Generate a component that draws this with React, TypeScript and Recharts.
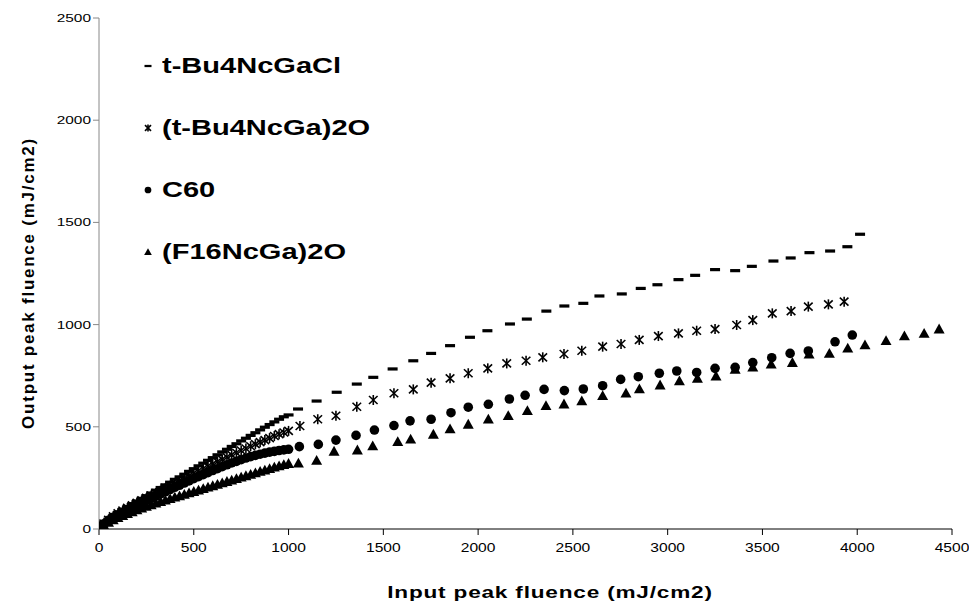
import React from 'react';
import { ScatterChart, Scatter, XAxis, YAxis, Legend } from 'recharts';

// series names
const seriesNames = ['t-Bu4NcGaCl', '(t-Bu4NcGa)2O', 'C60', '(F16NcGa)2O'];

const xTicks = [0, 500, 1000, 1500, 2000, 2500, 3000, 3500, 4000, 4500];
const yTicks = [0, 500, 1000, 1500, 2000, 2500];

// dense low-fluence region (shared input values)
const denseX = [0, 12, 25, 50, 75, 100, 125, 150, 175, 200, 225, 250, 275, 300, 325, 350, 375, 400, 425, 450, 475, 500, 525, 550, 575, 600, 625, 650, 675, 700, 725, 750, 775, 800, 825, 850, 875, 900, 925, 950, 975, 1000];

// t-Bu4NcGaCl
const clDenseY = [0, 18, 30, 48, 66, 82, 96, 110, 124, 137, 150, 163, 176, 190, 203, 216, 229, 243, 255, 268, 282, 295, 309, 322, 336, 349, 363, 377, 390, 404, 417, 431, 444, 458, 471, 485, 498, 511, 524, 537, 549, 558];
const clX = [1050, 1148, 1254, 1360, 1447, 1549, 1658, 1752, 1852, 1957, 2049, 2168, 2257, 2360, 2455, 2555, 2640, 2758, 2858, 2946, 3057, 3145, 3250, 3356, 3444, 3558, 3649, 3748, 3857, 3948, 4015];
const clY = [587, 626, 669, 709, 742, 783, 823, 859, 897, 938, 970, 1003, 1027, 1066, 1091, 1104, 1140, 1150, 1177, 1195, 1220, 1241, 1269, 1264, 1285, 1311, 1326, 1352, 1360, 1381, 1442];

// (t-Bu4NcGa)2O
const oxDenseY = [0, 15, 27, 45, 62, 77, 90, 103, 116, 128, 140, 152, 164, 176, 188, 200, 212, 225, 237, 249, 261, 273, 285, 296, 308, 319, 330, 341, 352, 363, 373, 384, 394, 405, 415, 425, 435, 445, 455, 464, 472, 480];
const oxX = [1060, 1154, 1250, 1360, 1447, 1556, 1658, 1752, 1852, 1948, 2051, 2151, 2253, 2341, 2453, 2547, 2657, 2754, 2850, 2951, 3057, 3153, 3250, 3364, 3449, 3552, 3651, 3742, 3848, 3931];
const oxY = [504, 537, 554, 598, 631, 664, 683, 716, 737, 762, 786, 810, 823, 840, 856, 872, 892, 905, 925, 944, 957, 970, 978, 998, 1022, 1055, 1066, 1088, 1099, 1112];

// C60
const c60DenseY = [0, 14, 25, 42, 57, 70, 82, 94, 106, 117, 128, 139, 150, 161, 172, 182, 193, 204, 214, 225, 235, 246, 256, 266, 276, 286, 295, 305, 314, 323, 331, 339, 347, 354, 360, 366, 371, 376, 380, 384, 387, 390];
const c60X = [1057, 1157, 1250, 1356, 1453, 1556, 1641, 1752, 1857, 1948, 2054, 2165, 2248, 2348, 2455, 2555, 2657, 2752, 2845, 2956, 3048, 3153, 3250, 3356, 3449, 3549, 3646, 3742, 3883, 3974];
const c60Y = [403, 414, 435, 458, 484, 506, 529, 537, 569, 596, 610, 636, 654, 683, 677, 685, 701, 732, 745, 762, 773, 766, 786, 791, 814, 838, 859, 871, 916, 949];

// (F16NcGa)2O
const fDenseY = [0, 10, 18, 32, 44, 55, 65, 75, 84, 93, 102, 110, 118, 126, 134, 141, 148, 155, 162, 169, 176, 183, 190, 197, 204, 211, 218, 225, 232, 239, 246, 253, 260, 267, 274, 281, 288, 295, 302, 308, 314, 320];
const fX = [1052, 1148, 1240, 1363, 1444, 1576, 1644, 1764, 1852, 1948, 2054, 2159, 2260, 2358, 2453, 2547, 2657, 2780, 2851, 2960, 3062, 3157, 3255, 3356, 3449, 3546, 3658, 3746, 3853, 3950, 4041, 4152, 4249, 4353, 4432];
const fY = [322, 335, 380, 386, 406, 427, 439, 463, 489, 512, 537, 554, 579, 603, 611, 626, 652, 664, 685, 704, 724, 737, 748, 781, 791, 806, 814, 855, 859, 884, 900, 921, 944, 957, 978];

const toPoints = (xs: number[], ys: number[]) => xs.map((x, i) => ({ x, y: ys[i] }));

const clData = [...toPoints(denseX, clDenseY), ...toPoints(clX, clY)];
const oxData = [...toPoints(denseX, oxDenseY), ...toPoints(oxX, oxY)];
const c60Data = [...toPoints(denseX, c60DenseY), ...toPoints(c60X, c60Y)];
const fData = [...toPoints(denseX, fDenseY), ...toPoints(fX, fY)];

// marker shapes
const Dash = ({ cx, cy, s = 1 }: any) => (
  <rect x={cx - 5 * s} y={cy - 1.6 * s} width={10 * s} height={3.2 * s} fill="#000" />
);
const Star = ({ cx, cy, s = 1 }: any) => (
  <g stroke="#000" strokeWidth={1.6}>
    <line x1={cx} y1={cy - 5 * s} x2={cx} y2={cy + 5 * s} />
    <line x1={cx - 4.3 * s} y1={cy - 4 * s} x2={cx + 4.3 * s} y2={cy + 4 * s} />
    <line x1={cx - 4.3 * s} y1={cy + 4 * s} x2={cx + 4.3 * s} y2={cy - 4 * s} />
  </g>
);
const Dot = ({ cx, cy, s = 1 }: any) => <circle cx={cx} cy={cy} r={4.8 * s} fill="#000" />;
const Tri = ({ cx, cy, s = 1 }: any) => (
  <polygon
    points={`${cx},${cy - 5.5 * s} ${cx - 5.5 * s},${cy + 4.3 * s} ${cx + 5.5 * s},${cy + 4.3 * s}`}
    fill="#000"
  />
);
const markers = [Dash, Star, Dot, Tri];

const FONT = 'Arial, "Liberation Sans", Helvetica, sans-serif';

const XTick = ({ x, y, payload }: any) => (
  <g transform={`translate(${x},${y}) scale(1.2,1)`}>
    <text x={0} y={0} dy={15} textAnchor="middle" fontSize={13} fontFamily={FONT} fill="#000">
      {payload.value}
    </text>
  </g>
);

const YTick = ({ x, y, payload }: any) => (
  <g transform={`translate(${x},${y}) scale(1.4,1)`}>
    <text x={0} y={0} dy={4} textAnchor="end" fontSize={11} fontFamily={FONT} fill="#000">
      {payload.value}
    </text>
  </g>
);

const LegendBox = () => (
  <div style={{ fontFamily: FONT }}>
    {seriesNames.map((name, i) => {
      const M = markers[i];
      return (
        <div key={name} style={{ height: 62, display: 'flex', alignItems: 'center' }}>
          <svg width={16} height={16} style={{ marginRight: 6 }}>
            <M cx={8} cy={8} s={0.7} />
          </svg>
          <span
            style={{
              fontSize: 22,
              fontWeight: 'bold',
              display: 'inline-block',
              transform: 'scale(1.32,1)',
              transformOrigin: 'left center',
              whiteSpace: 'nowrap',
              lineHeight: 1,
            }}
          >
            {name}
          </span>
        </div>
      );
    })}
  </div>
);

export default function App() {
  return (
    <div style={{ position: 'absolute', left: 0, top: 0, width: 969, height: 605, background: '#fff' }}>
      <ScatterChart width={969} height={605} margin={{ top: 18, right: 17, bottom: 46, left: 39 }}>
        <XAxis
          type="number"
          dataKey="x"
          domain={[0, 4500]}
          ticks={xTicks}
          tick={<XTick />}
          tickSize={6}
          height={30}
          stroke="#000"
          allowDataOverflow
          label={{
            content: () => (
              <g transform="translate(550,598) scale(1.33,1)">
                <text textAnchor="middle" fontSize={17} fontWeight="bold" fontFamily={FONT} fill="#000" letterSpacing={0.6}>
                  Input peak fluence (mJ/cm2)
                </text>
              </g>
            ),
          }}
        />
        <YAxis
          type="number"
          dataKey="y"
          domain={[0, 2500]}
          ticks={yTicks}
          tick={<YTick />}
          tickSize={6}
          width={60}
          stroke="#888"
          allowDataOverflow
          label={{
            content: () => (
              <g transform="translate(34,283) rotate(-90)">
                <text textAnchor="middle" fontSize={17} fontWeight="bold" fontFamily={FONT} fill="#000" letterSpacing={1.75}>
                  Output peak fluence (mJ/cm2)
                </text>
              </g>
            ),
          }}
        />
        <Legend
          layout="vertical"
          align="center"
          verticalAlign="middle"
          content={<LegendBox />}
          wrapperStyle={{ left: 140, top: 35, width: 300, height: 250 }}
        />
        <Scatter name={seriesNames[0]} data={clData} shape={(p: any) => <Dash cx={p.cx} cy={p.cy} />} isAnimationActive={false} />
        <Scatter name={seriesNames[1]} data={oxData} shape={(p: any) => <Star cx={p.cx} cy={p.cy} />} isAnimationActive={false} />
        <Scatter name={seriesNames[2]} data={c60Data} shape={(p: any) => <Dot cx={p.cx} cy={p.cy} />} isAnimationActive={false} />
        <Scatter name={seriesNames[3]} data={fData} shape={(p: any) => <Tri cx={p.cx} cy={p.cy} />} isAnimationActive={false} />
      </ScatterChart>
    </div>
  );
}
